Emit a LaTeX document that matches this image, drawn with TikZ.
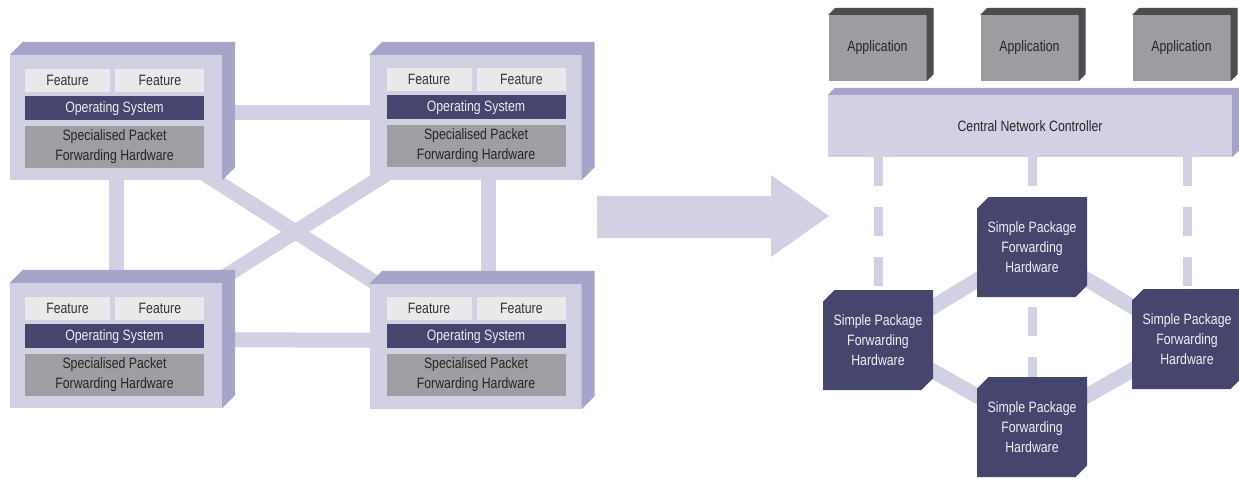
\documentclass[tikz,border=0pt]{standalone}
\usepackage{fontspec}
\setmainfont{Liberation Sans}[FakeStretch=0.82]
\definecolor{lavender}{HTML}{D2D1E4}
\definecolor{lavedge}{HTML}{A6A4C8}
\definecolor{featgrey}{HTML}{E9E9EB}
\definecolor{osblue}{HTML}{46456E}
\definecolor{hwgrey}{HTML}{9E9EA3}
\definecolor{appgrey}{HTML}{9D9DA1}
\definecolor{appedge}{HTML}{4B4B50}
\usetikzlibrary{positioning,calc,backgrounds,shapes.misc}

\begin{document}
\begin{tikzpicture}[x=1pt,y=-1pt,
  every node/.style={font=\fontsize{15}{20}\selectfont, inner sep=0pt, align=center},
  switch/.style={rectangle, fill=lavender, minimum width=212pt, minimum height=125pt},
  feat/.style={rectangle, fill=featgrey, text=black!80, minimum height=23pt},
  os/.style={rectangle, fill=osblue, text=white!90!osblue, minimum width=179pt, minimum height=24pt},
  hw/.style={rectangle, fill=hwgrey, text=black!85, minimum width=179pt, minimum height=42pt},
  app/.style={rectangle, fill=appgrey, text=black!85, minimum width=98pt, minimum height=66pt},
  ctrl/.style={rectangle, fill=lavender, text=black!85, minimum width=404pt, minimum height=62pt},
  spf/.style={chamfered rectangle, chamfered rectangle corners={north west,south east}, chamfered rectangle xsep=8pt, chamfered rectangle angle=45, fill=osblue, text=white!92!osblue, minimum width=110pt, minimum height=100pt},
  link/.style={draw=lavender, line width=15pt},
  dashlink/.style={draw=lavender, line width=9pt, dash pattern=on 29pt off 21pt}]
\useasboundingbox (0,0) rectangle (1239,479);

% traditional network: four switches
\node[switch] (tl) at (116,117.5) {};
\node[feat, minimum width=85pt, below right=14pt and 15pt of tl.north west] (tlf1) {Feature};
\node[feat, minimum width=89pt, right=5pt of tlf1] (tlf2) {Feature};
\node[os, below right=4pt and 0pt of tlf1.south west] (tlos) {Operating System};
\node[hw, below right=5pt and 0pt of tlos.south west] (tlhw) {Specialised Packet\\Forwarding Hardware};

\node[switch] (tr) at (475.5,117.5) {};
\node[feat, minimum width=85pt, below right=13pt and 17pt of tr.north west] (trf1) {Feature};
\node[feat, minimum width=89pt, right=5pt of trf1] (trf2) {Feature};
\node[os, below right=4pt and 0pt of trf1.south west] (tros) {Operating System};
\node[hw, below right=5pt and 0pt of tros.south west] (trhw) {Specialised Packet\\Forwarding Hardware};

\node[switch] (bl) at (116,345.5) {};
\node[feat, minimum width=85pt, below right=14pt and 15pt of bl.north west] (blf1) {Feature};
\node[feat, minimum width=89pt, right=5pt of blf1] (blf2) {Feature};
\node[os, below right=4pt and 0pt of blf1.south west] (blos) {Operating System};
\node[hw, below right=5pt and 0pt of blos.south west] (blhw) {Specialised Packet\\Forwarding Hardware};

\node[switch] (br) at (475.5,346.5) {};
\node[feat, minimum width=85pt, below right=13pt and 17pt of br.north west] (brf1) {Feature};
\node[feat, minimum width=89pt, right=5pt of brf1] (brf2) {Feature};
\node[os, below right=4pt and 0pt of brf1.south west] (bros) {Operating System};
\node[hw, below right=5pt and 0pt of bros.south west] (brhw) {Specialised Packet\\Forwarding Hardware};

% software defined network
\node[app] (a1) at (877.5,48) {Application};
\node[app] (a2) at (1029.5,48) {Application};
\node[app] (a3) at (1181.5,48) {Application};
\node[ctrl] (cnc) at (1030,126) {Central Network Controller};

\node[spf] (spft) at (1032,247) {Simple Package\\Forwarding\\Hardware};
\node[spf] (spfl) at (878,340) {Simple Package\\Forwarding\\Hardware};
\node[spf] (spfr) at (1187,339) {Simple Package\\Forwarding\\Hardware};
\node[spf] (spfb) at (1032,427) {Simple Package\\Forwarding\\Hardware};

% 3d edges
\foreach \n/\d/\c in {tl/13/lavedge,tr/13/lavedge,bl/13/lavedge,br/13/lavedge,a1/7/appedge,a2/7/appedge,a3/7/appedge,cnc/7/lavedge}
  \fill[\c] (\n.north west) -- ++(\d,-\d) -- ($(\n.north east)+(\d,-\d)$) -- ($(\n.south east)+(\d,-\d)$) -- (\n.south east) -- (\n.north east) -- cycle;

\begin{scope}[on background layer]
\draw[link] ([yshift=5.5pt]tl.center) -- ([yshift=5.5pt]tr.center);
\draw[link] ([yshift=6pt]bl.center) -- ([yshift=6pt]br.center);
\draw[link] (tl) -- (bl);
\draw[link] ([xshift=12.5pt]tr.center) -- ([xshift=12.5pt]br.center);
\draw[link] (tl.center) -- (br.center);
\draw[link] (tr.center) -- (bl.center);

\draw[link] (spfl.center) -- (spft.center) -- (spfr.center) -- (spfb.center) -- cycle;
\draw[dashlink] (cnc.south -| spfl) -- (spfl.north);
\draw[dashlink] (cnc.south -| spft) -- (spfb.north);
\draw[dashlink] (cnc.south -| spfr) -- (spfr.north);
\end{scope}

% big arrow
\fill[lavender] (597,196) -- (771,196) -- (771,175) -- (829,216) -- (771,257) -- (771,238) -- (597,238) -- cycle;
\end{tikzpicture}
\end{document}
